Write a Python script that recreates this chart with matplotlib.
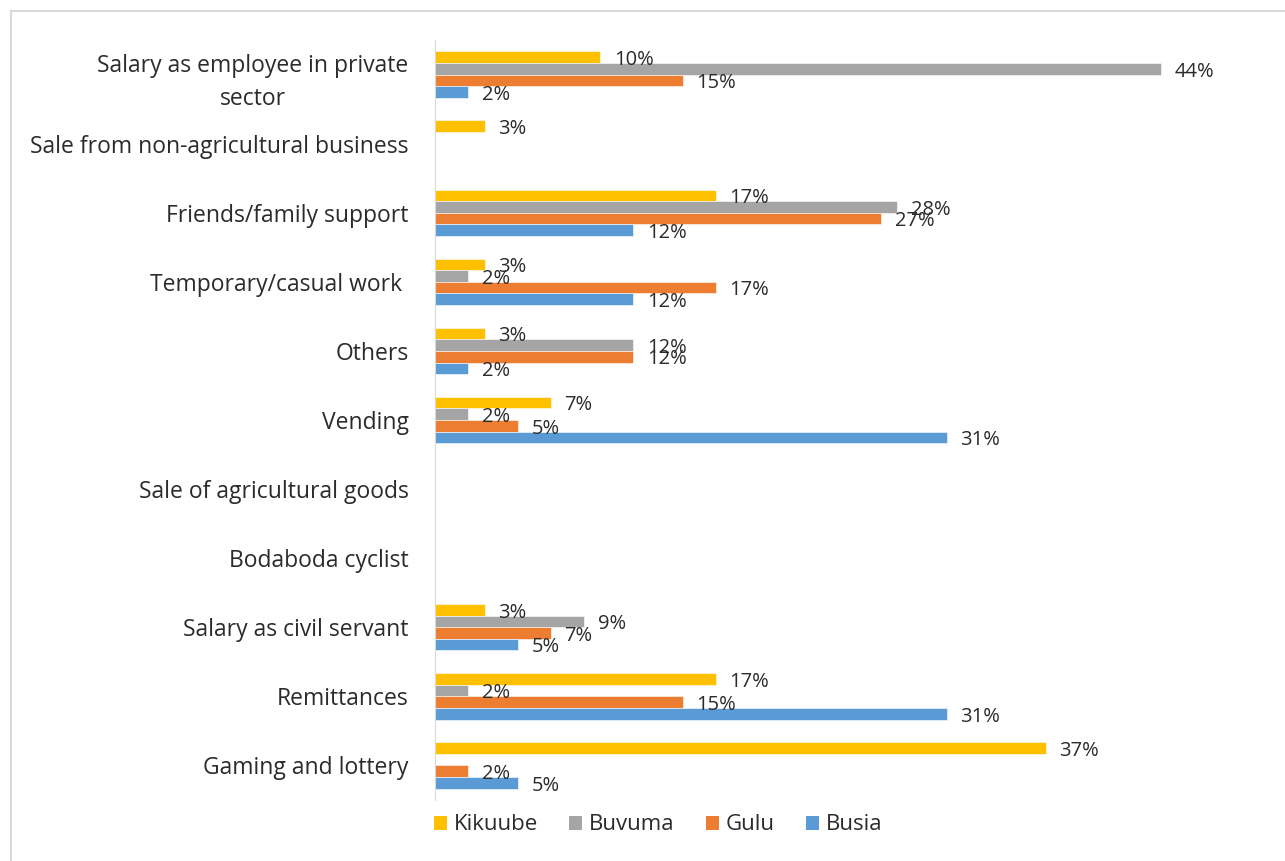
import numpy as np
import matplotlib.pyplot as plt
from matplotlib.lines import Line2D
from matplotlib.patches import Patch

plt.rcParams['font.family'] = ['Open Sans', 'DejaVu Sans']

categories = ["Salary as employee in private\nsector",
              "Sale from non-agricultural business",
              "Friends/family support",
              "Temporary/casual work ",
              "Others",
              "Vending",
              "Sale of agricultural goods",
              "Bodaboda cyclist",
              "Salary as civil servant",
              "Remittances",
              "Gaming and lottery"]

series = ["Kikuube", "Buvuma", "Gulu", "Busia"]
colors = ["#FFC000", "#A5A5A5", "#ED7D31", "#5B9BD5"]

kikuube = [10, 3, 17, 3, 3, 7, 0, 0, 3, 17, 37]
buvuma  = [44, 0, 28, 2, 12, 2, 0, 0, 9, 2, 0]
gulu    = [15, 0, 27, 17, 12, 5, 0, 0, 7, 15, 2]
busia   = [2, 0, 12, 12, 2, 31, 0, 0, 5, 31, 5]
values = [kikuube, buvuma, gulu, busia]

W, H = 1285, 861
fig = plt.figure(figsize=(W / 100, H / 100), dpi=100)
ax = fig.add_axes([435 / W, 1 - 800 / H, (1240 - 435) / W, 760 / H])

n = len(categories)
bh = 0.168
y = np.arange(n)
for k, (name, vals, col) in enumerate(zip(series, values, colors)):
    pos = y + (k - 1.5) * bh
    for yi, v in zip(pos, vals):
        if v == 0:
            continue
        ax.barh(yi, v, height=bh, color=col, edgecolor='white', linewidth=0.4)
        ax.text(v + 0.85, yi + 0.04, f"{v}%", va='center', ha='left',
                fontsize=14.5, color='#2b2b2b')

ax.set_xlim(0, (1240 - 435) / 16.5)
ax.set_ylim(n - 0.5, -0.5)
ax.set_yticks(y)
ax.set_yticklabels(categories, fontsize=16.5, color='#2b2b2b', ha='right',
                   multialignment='center', linespacing=1.55)
ax.tick_params(axis='y', length=0, pad=19)
ax.set_xticks([])
for s in ['top', 'right', 'bottom']:
    ax.spines[s].set_visible(False)
ax.spines['left'].set_color('#D9D9D9')

handles = [Patch(facecolor=c, label=s) for s, c in zip(series, colors)]
fig.legend(handles=handles, loc='center', bbox_to_anchor=(658 / W, 1 - 825 / H),
           ncol=4, frameon=False, fontsize=16, handlelength=0.6, handleheight=0.6,
           handletextpad=0.3, columnspacing=1.4, labelcolor='#2b2b2b')

# light outer frame along top and left
fig.add_artist(Line2D([11 / W, 1], [1 - 11 / H, 1 - 11 / H], color='#D9D9D9', lw=1.5))
fig.add_artist(Line2D([11 / W, 11 / W], [0, 1 - 11 / H], color='#D9D9D9', lw=1.5))

fig.savefig("out.png", dpi=100)
